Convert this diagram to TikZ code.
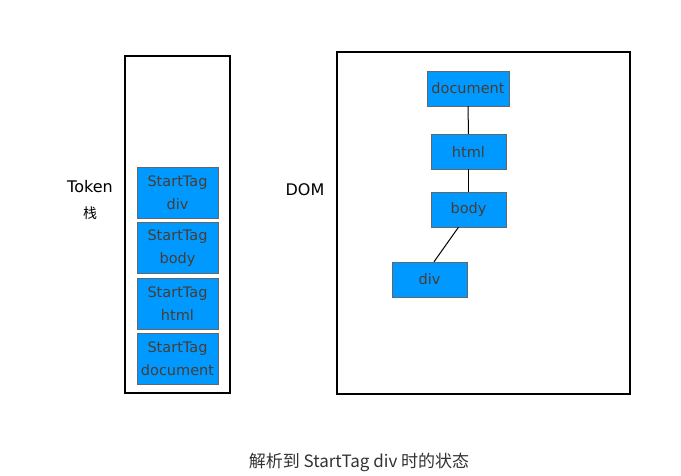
\documentclass[tikz,border=0pt]{standalone}
\usepackage{fontspec}
\setmainfont{DejaVu Sans}
\newfontfamily\cjk{Noto Sans CJK SC}
\usetikzlibrary{positioning}
\definecolor{boxblue}{RGB}{0,153,255}
\definecolor{boxtext}{RGB}{74,60,50}
\begin{document}
\begin{tikzpicture}[x=1pt,y=-1pt,
    frame/.style={draw=black,line width=1.5pt},
    tok/.style={draw=black!60,fill=boxblue,text=boxtext,minimum width=81pt,minimum height=51pt,
      inner sep=0pt,align=center,font=\fontsize{14.5}{23}\selectfont},
    dom/.style={draw=black!60,fill=boxblue,text=boxtext,minimum width=75pt,minimum height=35pt,
      inner sep=0pt,font=\fontsize{14.5}{16}\selectfont}]
    \useasboundingbox (0,0) rectangle (681,476);

    % 外框
    \draw[frame] (125,56) rectangle (230,393);
    \draw[frame] (337,52) rectangle (630,394);

    % Token 栈
    \node[tok] (tdiv) at (177.5,192.5) {StartTag\\div};
    \node[tok,below=4pt of tdiv] (tbody) {StartTag\\body};
    \node[tok,below=4pt of tbody] (thtml) {StartTag\\html};
    \node[tok,below=4pt of thtml] (tdoc) {StartTag\\document};

    % DOM 树
    \node[dom,minimum width=82pt] (document) at (468,88.5) {document};
    \node[dom] (html) at (468.5,151.5) {html};
    \node[dom] (body) at (468.5,209.5) {body};
    \node[dom] (div) at (429.5,279.5) {div};
    \draw[line width=1pt] (document) -- (html);
    \draw[line width=1pt] (html) -- (body);
    \draw[line width=1pt] ([xshift=-10pt]body.south) -- ([xshift=4.5pt]div.north);

    % 标签
    \node[font=\fontsize{16}{18}\selectfont] (token) at (90,187) {Token};
    \node[font=\cjk\fontsize{14}{16}\selectfont] (zhan) at (90,213) {栈};
    \node[font=\fontsize{16}{18}\selectfont] (domlabel) at (305,190) {DOM};
    \node[font=\cjk\fontsize{17}{19}\selectfont,text=black!80] (caption) at (359,462) {解析到 StartTag div 时的状态};
\end{tikzpicture}
\end{document}
